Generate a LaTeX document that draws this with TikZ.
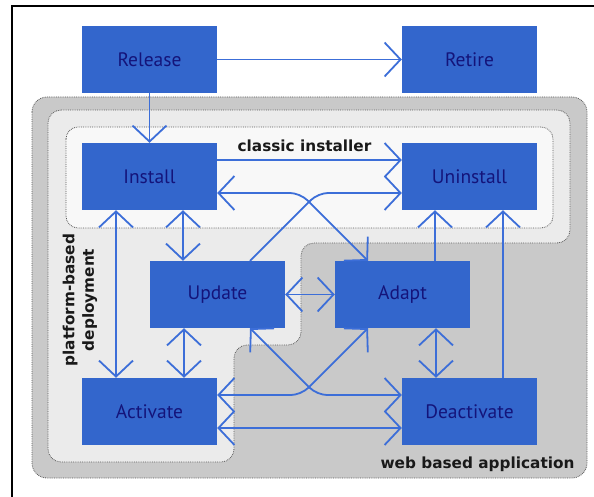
\documentclass[tikz,border=0pt]{standalone}
\usepackage{fontspec}
\setmainfont{PT Sans}
\newfontfamily\labelfont{DejaVu Sans}
\usetikzlibrary{arrows.meta,backgrounds,calc}
\definecolor{boxblue}{HTML}{3366CC}
\definecolor{boxtext}{HTML}{14147A}
\definecolor{linkblue}{HTML}{3C6ED8}
\definecolor{outergray}{HTML}{C9C9C9}
\definecolor{midgray}{HTML}{EBEBEB}
\definecolor{innergray}{HTML}{F8F8F8}
\begin{document}
\begin{tikzpicture}[x=1pt,y=-1pt,
  stage/.style={rectangle, fill=boxblue, text=boxtext, minimum width=135pt,
    minimum height=67pt, inner sep=0pt, font=\fontsize{19.5}{22}\selectfont},
  region/.style={draw=black!65, densely dotted, line width=0.8pt},
  grouplabel/.style={font=\labelfont\bfseries\fontsize{15.3}{19.5}\selectfont, text=black!90, inner sep=0pt},
  link/.style={draw=linkblue, line width=1.8pt, rounded corners=10pt},
  >={Straight Barb[length=16pt,width=34pt]},
]
\useasboundingbox (0,0) rectangle (594,497);

% page frame
\draw[line width=2pt] (12,497) -- (12,6) -- (594,6);

% lifecycle stages
\node[stage] (release)    at (149.5,59.5)  {Release};
\node[stage] (retire)     at (469.5,59.5)  {Retire};
\node[stage] (install)    at (149.5,176.5) {Install};
\node[stage] (uninstall)  at (469.5,176.5) {Uninstall};
\node[stage] (update)     at (217.5,294.5) {Update};
\node[stage] (adapt)      at (402.5,294.5) {Adapt};
\node[stage] (activate)   at (149.5,411.5) {Activate};
\node[stage] (deactivate) at (469.5,411.5) {Deactivate};

% deployment regions
\begin{scope}[on background layer]
  \draw[region, fill=outergray, rounded corners=15pt] (32,97) rectangle (587,478);
  \draw[region, fill=midgray, rounded corners=13pt]
    (48,110) -- (570,110) -- (570,243) -- (301,243) -- (301,345)
    -- (234,345) -- (234,462) -- (48,462) -- cycle;
  \draw[region, fill=innergray, rounded corners=12pt] (66,127) rectangle (553,228);
\end{scope}

% region labels
\node[grouplabel, anchor=base] (classic) at (304.5,152) {classic installer};
\node[grouplabel, anchor=base] (web) at (477.5,468) {web based application};
\node[grouplabel, rotate=90, align=center] (platform) at (80,300) {platform-based\\deployment};

% bends of the crossing connectors
\coordinate (bendIA) at (300,193);
\coordinate (bendUU) at (318,193);
\coordinate (bendUD) at (317,395);
\coordinate (bendAA) at (301,395);

% transitions
\draw[link,->] (release) -- (retire);
\draw[link,->] (release) -- (install);
\draw[link,->] ([yshift=16.5pt]install.east) -- ([yshift=16.5pt]uninstall.west);
\draw[link,<->] ([yshift=-16.5pt]install.east) -- (bendIA) -- ([xshift=-34.5pt]adapt.north);
\draw[link,->] ([xshift=32.5pt]update.north) -- (bendUU) -- ([yshift=-16.5pt]uninstall.west);
\draw[link,<->] ([xshift=33.5pt]install.south) -- ([xshift=-34.5pt]update.north);
\draw[link,<->] ([xshift=-33.5pt]install.south) -- ([xshift=-33.5pt]activate.north);
\draw[link,<->] ([xshift=-33.5pt]update.south) -- ([xshift=34.5pt]activate.north);
\draw[link,<->] (update) -- (adapt);
\draw[link,->] ([xshift=32.5pt]adapt.north) -- ([xshift=-34.5pt]uninstall.south);
\draw[link,->] ([xshift=33.5pt]deactivate.north) -- ([xshift=33.5pt]uninstall.south);
\draw[link,<->] ([xshift=33.5pt]adapt.south) -- ([xshift=-33.5pt]deactivate.north);
\draw[link,<->] ([xshift=32.5pt]update.south) -- (bendUD) -- ([yshift=16.5pt]deactivate.west);
\draw[link,<->] ([xshift=-34.5pt]adapt.south) -- (bendAA) -- ([yshift=16.5pt]activate.east);
\draw[link,<->] ([yshift=-16.5pt]activate.east) -- ([yshift=-16.5pt]deactivate.west);
\end{tikzpicture}
\end{document}
